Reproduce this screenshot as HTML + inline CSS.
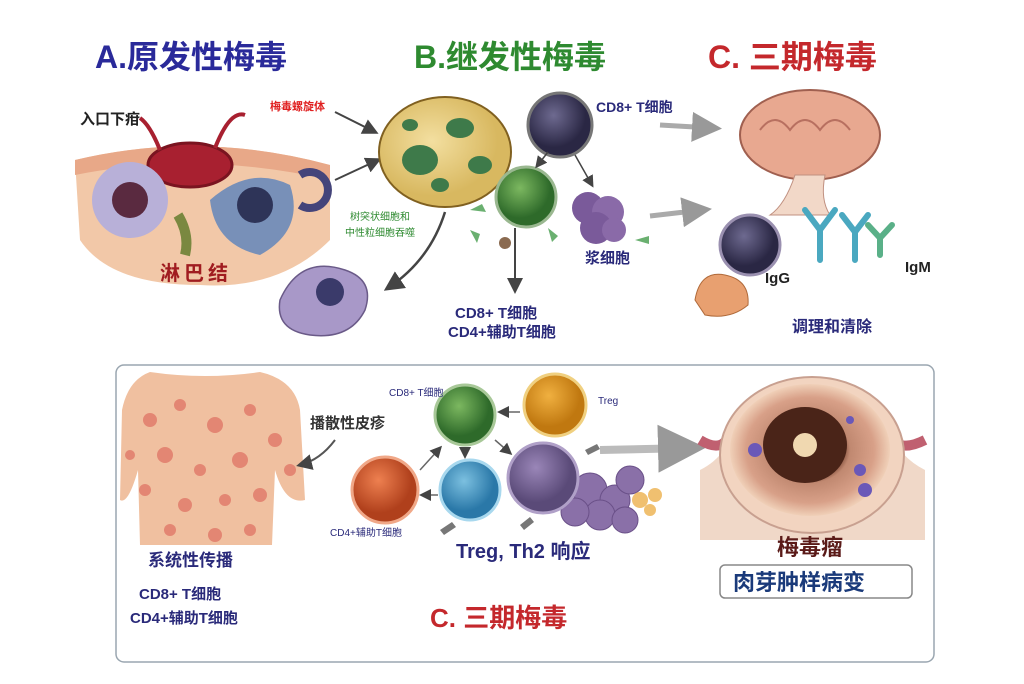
<!DOCTYPE html>
<html><head><meta charset="utf-8"><style>
html,body{margin:0;padding:0;background:#fff;}
svg{display:block;font-family:"Liberation Sans","Noto Sans CJK SC",sans-serif;}
</style></head><body>
<svg width="1024" height="684" viewBox="0 0 1024 684" xmlns="http://www.w3.org/2000/svg">
<defs>
<radialGradient id="gy" cx="40%" cy="40%"><stop offset="0" stop-color="#f3dfa0"/><stop offset="1" stop-color="#d8b860"/></radialGradient>
<radialGradient id="gp" cx="40%" cy="35%"><stop offset="0" stop-color="#9a86b8"/><stop offset="1" stop-color="#5a4a78"/></radialGradient>
<radialGradient id="gdark" cx="40%" cy="35%"><stop offset="0" stop-color="#6e6a90"/><stop offset="1" stop-color="#2a2744"/></radialGradient>
<radialGradient id="gg" cx="40%" cy="35%"><stop offset="0" stop-color="#7cb860"/><stop offset="1" stop-color="#2e6a2a"/></radialGradient>
<radialGradient id="go" cx="40%" cy="35%"><stop offset="0" stop-color="#f0b040"/><stop offset="1" stop-color="#c07810"/></radialGradient>
<radialGradient id="gr" cx="40%" cy="35%"><stop offset="0" stop-color="#ee8050"/><stop offset="1" stop-color="#b0401c"/></radialGradient>
<radialGradient id="gb" cx="40%" cy="35%"><stop offset="0" stop-color="#7cc0e0"/><stop offset="1" stop-color="#2a78a8"/></radialGradient>
<radialGradient id="gt" cx="50%" cy="50%"><stop offset="0" stop-color="#3a1a10"/><stop offset="0.35" stop-color="#5a2a1a"/><stop offset="0.5" stop-color="#c08870"/><stop offset="0.8" stop-color="#d8a088"/><stop offset="1" stop-color="#f0d0b8"/></radialGradient>
<marker id="ah" markerWidth="8" markerHeight="8" refX="6" refY="4" orient="auto"><path d="M0,0 L8,4 L0,8 z" fill="#444"/></marker>
<marker id="ahg" markerWidth="6" markerHeight="6" refX="4" refY="3" orient="auto"><path d="M0,0 L6,3 L0,6 z" fill="#999"/></marker>
</defs>

<!-- Titles -->
<text x="95" y="68" font-size="32" font-weight="bold" fill="#2a2a9a">A.原发性梅毒</text>
<text x="414" y="68" font-size="32" font-weight="bold" fill="#2e8a30">B.继发性梅毒</text>
<text x="708" y="68" font-size="32" font-weight="bold" fill="#c4282c">C. 三期梅毒</text>

<!-- Primary skin region -->
<path d="M75,160 Q200,130 330,165 L330,240 Q280,290 200,285 Q110,285 80,240 Z" fill="#f2c8a8"/>
<path d="M75,160 Q200,130 330,165 L330,180 Q200,150 75,175 Z" fill="#e8a888"/>
<ellipse cx="190" cy="165" rx="42" ry="22" fill="#a82030" stroke="#7a1420" stroke-width="3"/>
<path d="M160,150 Q150,125 140,118 M215,148 Q230,110 245,115" stroke="#a82030" stroke-width="4" fill="none"/>
<circle cx="130" cy="200" r="38" fill="#b8b0d8"/>
<circle cx="130" cy="200" r="18" fill="#5a2a40"/>
<path d="M210,200 Q250,165 290,185 Q305,230 260,255 Q215,245 210,200Z" fill="#7890b8"/>
<circle cx="255" cy="205" r="18" fill="#2e3458"/>
<path d="M300,175 a18,18 0 1 1 0,30" stroke="#44447a" stroke-width="8" fill="none"/>
<path d="M178,215 Q190,235 185,255" stroke="#7a8840" stroke-width="10" fill="none"/>
<text x="80" y="124" font-size="15" font-weight="bold" fill="#222">入口下疳</text>
<text x="160" y="280" font-size="20" font-weight="bold" fill="#a01c20" letter-spacing="4">淋巴结</text>
<text x="270" y="110" font-size="11" font-weight="bold" fill="#e02020">梅毒螺旋体</text>
<line x1="335" y1="112" x2="375" y2="132" stroke="#444" stroke-width="2" marker-end="url(#ah)"/>
<line x1="335" y1="180" x2="378" y2="160" stroke="#444" stroke-width="2" marker-end="url(#ah)"/>

<!-- Big yellow cell -->
<ellipse cx="445" cy="152" rx="66" ry="55" fill="url(#gy)" stroke="#806020" stroke-width="2"/>
<ellipse cx="420" cy="160" rx="18" ry="15" fill="#3e7a4a"/>
<ellipse cx="460" cy="128" rx="14" ry="10" fill="#3e7a4a"/>
<ellipse cx="480" cy="165" rx="12" ry="9" fill="#3e7a4a"/>
<ellipse cx="440" cy="185" rx="9" ry="7" fill="#3e7a4a"/>
<ellipse cx="410" cy="125" rx="8" ry="6" fill="#3e7a4a"/>
<text x="350" y="220" font-size="10" fill="#2e8a30">树突状细胞和</text>
<text x="345" y="236" font-size="10" fill="#2e8a30">中性粒细胞吞噬</text>
<path d="M445,212 Q430,260 388,288" stroke="#444" stroke-width="2.5" fill="none" marker-end="url(#ah)"/>
<!-- macrophage -->
<path d="M280,300 Q300,255 345,270 Q375,280 365,310 Q350,340 310,335 Q275,330 280,300Z" fill="#a898c8" stroke="#6a5a88" stroke-width="1.5"/>
<circle cx="330" cy="292" r="14" fill="#3a3a6a"/>

<!-- B cells -->
<circle cx="560" cy="125" r="32" fill="url(#gdark)" stroke="#777" stroke-width="3"/>
<circle cx="526" cy="197" r="30" fill="url(#gg)" stroke="#9ab890" stroke-width="3"/>
<circle cx="588" cy="208" r="16" fill="#7a5a9a"/><circle cx="608" cy="212" r="16" fill="#8a6aa8"/><circle cx="596" cy="228" r="16" fill="#7a5a9a"/><circle cx="614" cy="230" r="12" fill="#8a6aa8"/>
<path d="M470,210 l12,-6 l4,8z M470,230 l10,4 l-3,9z M548,228 l10,8 l-6,6z M635,240 l14,-4 l0,8z" fill="#6ab070"/>
<circle cx="505" cy="243" r="6" fill="#8a6a50"/>
<line x1="548" y1="152" x2="537" y2="166" stroke="#444" stroke-width="1.5" marker-end="url(#ah)"/>
<line x1="575" y1="155" x2="592" y2="185" stroke="#444" stroke-width="1.5" marker-end="url(#ah)"/>
<line x1="515" y1="228" x2="515" y2="290" stroke="#444" stroke-width="2" marker-end="url(#ah)"/>
<text x="596" y="112" font-size="14" font-weight="bold" fill="#2a2a7a">CD8+ T细胞</text>
<text x="585" y="263" font-size="15" font-weight="bold" fill="#2a2a7a">浆细胞</text>
<text x="455" y="318" font-size="15" font-weight="bold" fill="#2a2a7a">CD8+ T细胞</text>
<text x="448" y="337" font-size="15" font-weight="bold" fill="#2a2a7a">CD4+辅助T细胞</text>
<line x1="660" y1="125" x2="712" y2="128" stroke="#aaa" stroke-width="5" marker-end="url(#ahg)"/>
<line x1="650" y1="216" x2="702" y2="210" stroke="#aaa" stroke-width="5" marker-end="url(#ahg)"/>

<!-- C top -->
<ellipse cx="810" cy="135" rx="70" ry="45" fill="#e8a890" stroke="#a06050" stroke-width="2"/>
<path d="M760,130 q15,-20 30,0 q15,-20 30,0 q15,-20 30,0" stroke="#b87060" stroke-width="2" fill="none"/>
<path d="M795,175 Q785,205 770,215 L830,215 Q820,200 825,175Z" fill="#f2d8c8" stroke="#c09080"/>
<circle cx="750" cy="245" r="30" fill="url(#gdark)" stroke="#9a90b0" stroke-width="3"/>
<g stroke="#4aa8c0" stroke-width="6" fill="none" stroke-linecap="round">
<path d="M820,260 L820,230 L805,210 M820,230 L835,210"/>
<path d="M855,260 L855,232 L842,215 M855,232 L868,215"/>
<path d="M880,255 L880,238 L868,225 M880,238 L892,225" stroke="#5ab088"/>
</g>
<path d="M695,300 Q700,270 725,275 Q750,280 748,305 Q730,320 705,315Z" fill="#e8a070" stroke="#b06a3a"/>
<text x="765" y="283" font-size="15" font-weight="bold" fill="#222">IgG</text>
<text x="905" y="272" font-size="15" font-weight="bold" fill="#222">IgM</text>
<text x="792" y="332" font-size="16" font-weight="bold" fill="#2a2a7a">调理和清除</text>

<!-- Bottom box -->
<rect x="116" y="365" width="818" height="297" rx="8" fill="none" stroke="#9aa6b0" stroke-width="1.5"/>

<!-- Torso -->
<path d="M150,372 Q205,380 260,372 Q295,380 300,410 L305,500 Q285,505 275,470 L272,545 L140,545 L138,470 Q128,505 120,500 L122,410 Q128,380 150,372Z" fill="#f0c0a0"/>
<g fill="#e07868" opacity="0.8">
<circle cx="150" cy="420" r="7"/><circle cx="180" cy="405" r="6"/><circle cx="215" cy="425" r="8"/><circle cx="250" cy="410" r="6"/><circle cx="275" cy="440" r="7"/>
<circle cx="165" cy="455" r="8"/><circle cx="200" cy="470" r="6"/><circle cx="240" cy="460" r="8"/><circle cx="145" cy="490" r="6"/><circle cx="185" cy="505" r="7"/>
<circle cx="225" cy="500" r="6"/><circle cx="260" cy="495" r="7"/><circle cx="170" cy="530" r="6"/><circle cx="215" cy="535" r="7"/><circle cx="250" cy="530" r="6"/>
<circle cx="290" cy="470" r="6"/><circle cx="130" cy="455" r="5"/></g>
<text x="310" y="428" font-size="15" font-weight="bold" fill="#333">播散性皮疹</text>
<path d="M335,440 Q320,460 300,465" stroke="#555" stroke-width="2" fill="none" marker-end="url(#ah)"/>
<text x="148" y="566" font-size="17" font-weight="bold" fill="#2a2a7a">系统性传播</text>
<text x="139" y="599" font-size="15" font-weight="bold" fill="#2a2a7a">CD8+ T细胞</text>
<text x="130" y="623" font-size="15" font-weight="bold" fill="#2a2a7a">CD4+辅助T细胞</text>

<!-- Bottom cells -->
<circle cx="465" cy="415" r="30" fill="url(#gg)" stroke="#a8c898" stroke-width="3"/>
<circle cx="555" cy="405" r="31" fill="url(#go)" stroke="#f0d080" stroke-width="3"/>
<circle cx="385" cy="490" r="33" fill="url(#gr)" stroke="#f0a888" stroke-width="3"/>
<circle cx="470" cy="490" r="30" fill="url(#gb)" stroke="#a8d8ee" stroke-width="3"/>
<g fill="#8a70a8" stroke="#6a5088">
<circle cx="590" cy="490" r="17"/><circle cx="615" cy="500" r="15"/><circle cx="600" cy="515" r="15"/><circle cx="630" cy="480" r="14"/><circle cx="575" cy="512" r="14"/><circle cx="625" cy="520" r="13"/>
</g>
<circle cx="543" cy="478" r="35" fill="url(#gp)" stroke="#b0a0c8" stroke-width="3"/>
<g fill="#f0c070"><circle cx="640" cy="500" r="8"/><circle cx="655" cy="495" r="7"/><circle cx="650" cy="510" r="6"/></g>
<path d="M440,530 l12,-8 l4,5 l-12,8z M520,525 l10,-8 l4,5 l-10,8z M585,450 l12,-6 l3,5 l-12,6z" fill="#777"/>
<text x="389" y="396" font-size="10" fill="#2a2a7a">CD8+ T细胞</text>
<text x="598" y="404" font-size="10" fill="#2a2a7a">Treg</text>
<text x="330" y="536" font-size="10" fill="#2a2a7a">CD4+辅助T细胞</text>
<text x="456" y="558" font-size="20" font-weight="bold" fill="#2a2a7a">Treg, Th2 响应</text>
<line x1="520" y1="412" x2="500" y2="412" stroke="#666" stroke-width="1.5" marker-end="url(#ah)"/>
<line x1="420" y1="470" x2="440" y2="448" stroke="#666" stroke-width="1.5" marker-end="url(#ah)"/>
<line x1="465" y1="448" x2="465" y2="456" stroke="#666" stroke-width="1.5" marker-end="url(#ah)"/>
<line x1="438" y1="495" x2="422" y2="495" stroke="#666" stroke-width="1.5" marker-end="url(#ah)"/>
<line x1="495" y1="440" x2="510" y2="453" stroke="#666" stroke-width="1.5" marker-end="url(#ah)"/>
<line x1="600" y1="450" x2="690" y2="448" stroke="#bbb" stroke-width="8" marker-end="url(#ahg)"/>

<!-- Tumor -->
<path d="M700,470 Q730,455 735,420 L885,420 Q895,455 925,470 L925,540 L700,540Z" fill="#f0d8c8"/>
<path d="M700,440 Q725,455 730,430 M925,440 Q895,455 890,430" stroke="#c06070" stroke-width="10" fill="none"/>
<ellipse cx="812" cy="455" rx="92" ry="78" fill="#f2d4c0" stroke="#c8a090" stroke-width="2"/>
<ellipse cx="810" cy="450" rx="80" ry="66" fill="url(#gt)"/>
<ellipse cx="805" cy="445" rx="42" ry="38" fill="#4a2418"/>
<circle cx="805" cy="445" r="12" fill="#f0d8b0"/>
<g fill="#6a58b8"><circle cx="755" cy="450" r="7"/><circle cx="860" cy="470" r="6"/><circle cx="865" cy="490" r="7"/><circle cx="850" cy="420" r="4"/></g>
<text x="777" y="555" font-size="22" font-weight="bold" fill="#5a1a18">梅毒瘤</text>
<rect x="720" y="565" width="192" height="33" rx="5" fill="#fff" stroke="#888" stroke-width="1.5"/>
<text x="733" y="590" font-size="22" font-weight="bold" fill="#1a3a7a">肉芽肿样病变</text>

<text x="430" y="627" font-size="26" font-weight="bold" fill="#c4282c">C. 三期梅毒</text>
</svg>
</body></html>
